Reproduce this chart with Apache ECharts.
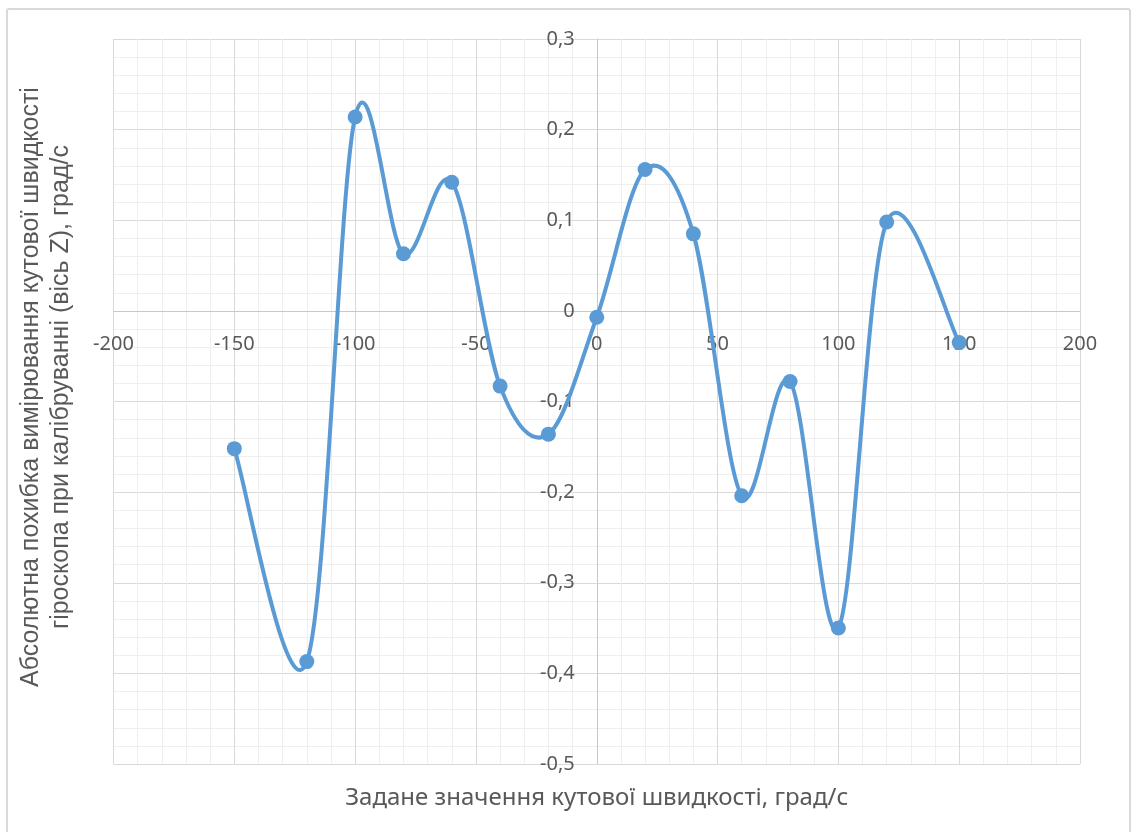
<!DOCTYPE html>
<html>
<head>
<meta charset="utf-8">
<script src="https://cdn.jsdelivr.net/npm/echarts@6/dist/echarts.min.js"></script>
<style>
  html, body { margin: 0; padding: 0; background: #ffffff; }
  #frame {
    position: absolute; left: 6px; top: 8px; width: 1121px; height: 830px;
    border: 2px solid #d9d9d9; border-radius: 3px;
  }
  #chart { position: absolute; left: 0; top: 0; width: 1136px; height: 832px; }
</style>
</head>
<body>
<div id="frame"></div>
<div id="chart"></div>
<script>
// Задане значення кутової швидкості, град/с
const rates = [-150, -120, -100, -80, -60, -40, -20, 0, 20, 40, 60, 80, 100, 120, 150];
// Абсолютна похибка вимірювання (вісь Z), град/с
const errors = [-0.152, -0.387, 0.214, 0.063, 0.142, -0.083, -0.136, -0.007, 0.156, 0.085, -0.204, -0.078, -0.350, 0.098, -0.035];

// axis ranges and tick steps
const xRange = [-200, 200];
const xStep = 50;
const yRange = [-0.5, 0.3];
const yStep = 0.1;

const xAxisTitle = 'Задане значення кутової швидкості, град/с';
const yAxisTitle = ['Абсолютна похибка вимірювання кутової швидкості', 'гіроскопа при калібруванні (вісь Z), град/с'];

const FONT = '"Noto Sans", sans-serif';
const TEXT = '#595959';
const BLUE = '#5b9bd5';

// plot rectangle
const W = 1136, H = 832;
const G = { left: 113.5, right: 56, top: 39, bottom: 68 };
const plotW = W - G.left - G.right;
const plotH = H - G.top - G.bottom;
// axes cross at zero: shift each axis from its grid edge to the other axis' zero
const xAxisOffset = -plotH * (0 - yRange[0]) / (yRange[1] - yRange[0]);
const yAxisOffset = -plotW * (0 - xRange[0]) / (xRange[1] - xRange[0]);

const fmtX = v => String(Math.round(v));
const fmtY = v => {
  if (Math.abs(v) < 1e-9) return '0';
  return (Math.round(v * 10) / 10).toFixed(1).replace('.', ',');
};

const points = rates.map((r, i) => [r, errors[i]]);

// smooth curve through the points: cubic segments with Catmull-Rom tangents
function renderSegment(params, api) {
  const i = params.dataIndex;
  const n = points.length;
  if (i >= n - 1) return null;
  const P = k => api.coord(points[Math.max(0, Math.min(n - 1, k))]);
  const p0 = P(i - 1), p1 = P(i), p2 = P(i + 1), p3 = P(i + 2);
  const t = 1 / 6;
  return {
    type: 'bezierCurve',
    silent: true,
    shape: {
      x1: p1[0], y1: p1[1], x2: p2[0], y2: p2[1],
      cpx1: p1[0] + (p2[0] - p0[0]) * t, cpy1: p1[1] + (p2[1] - p0[1]) * t,
      cpx2: p2[0] - (p3[0] - p1[0]) * t, cpy2: p2[1] - (p3[1] - p1[1]) * t
    },
    style: { stroke: BLUE, lineWidth: 4, fill: null, lineCap: 'round', lineJoin: 'round' }
  };
}

const chart = echarts.init(document.getElementById('chart'), null, { renderer: 'canvas' });

const gridLines = {
  splitLine: { show: true, lineStyle: { color: '#d9d9d9', width: 1 } },
  minorTick: { show: false, splitNumber: 5 },
  minorSplitLine: { show: true, lineStyle: { color: '#efefef', width: 1 } },
  axisTick: { show: false }
};

chart.setOption({
  animation: false,
  backgroundColor: 'transparent',
  grid: { left: G.left, right: G.right, top: G.top, bottom: G.bottom, containLabel: false },
  xAxis: Object.assign({
    type: 'value', min: xRange[0], max: xRange[1], interval: xStep,
    position: 'bottom', offset: xAxisOffset,
    axisLine: { show: true, onZero: false, lineStyle: { color: '#c8c8c8', width: 1 } },
    axisLabel: { color: TEXT, fontSize: 20, fontFamily: FONT, margin: 23, formatter: fmtX }
  }, gridLines),
  yAxis: Object.assign({
    type: 'value', min: yRange[0], max: yRange[1], interval: yStep,
    position: 'left', offset: yAxisOffset,
    axisLine: { show: true, onZero: false, lineStyle: { color: '#c8c8c8', width: 1 } },
    axisLabel: { color: TEXT, fontSize: 20, fontFamily: FONT, margin: 22, formatter: fmtY }
  }, gridLines),
  graphic: [
    {
      type: 'text', x: G.left + plotW / 2, y: 786,
      style: { text: xAxisTitle, fill: TEXT, font: '24px ' + FONT, textAlign: 'center', textVerticalAlign: 'top' }
    },
    {
      type: 'text', rotation: Math.PI / 2, x: 16, y: 387,
      style: { text: yAxisTitle.join('\n'), fill: TEXT, font: '25px "Liberation Sans", Arial, sans-serif',
               textAlign: 'center', textVerticalAlign: 'top', lineHeight: 30 }
    }
  ],
  series: [
    {
      type: 'custom',
      coordinateSystem: 'cartesian2d',
      data: points,
      encode: { x: 0, y: 1 },
      renderItem: renderSegment,
      z: 3
    },
    {
      type: 'scatter',
      data: points,
      symbol: 'circle',
      symbolSize: 15,
      itemStyle: { color: BLUE, opacity: 1 },
      z: 4
    }
  ]
});
</script>
</body>
</html>
